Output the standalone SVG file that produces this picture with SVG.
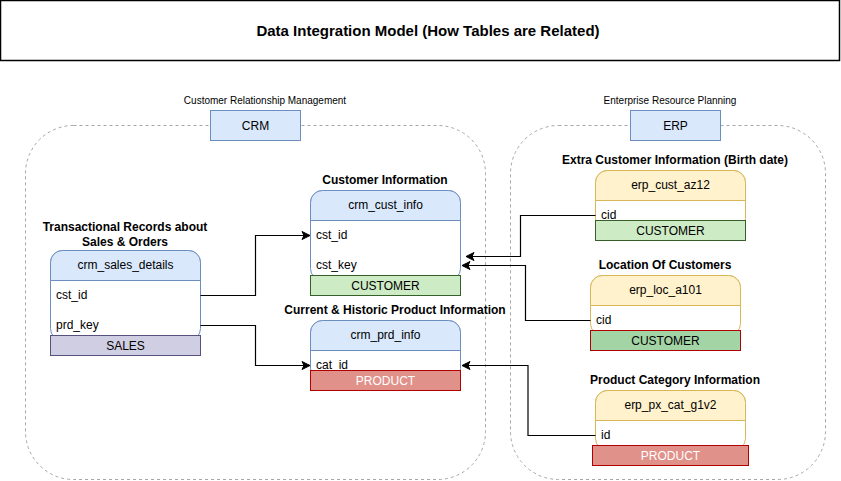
<svg xmlns="http://www.w3.org/2000/svg" width="841" height="481" viewBox="0 0 841 481">
<style>
text{font-family:"Liberation Sans",Arial,sans-serif;fill:#000}
.title{font-size:15px;font-weight:bold;text-anchor:middle}
.cap{font-size:12px;font-weight:bold;text-anchor:middle}
.small{font-size:10px;text-anchor:middle}
.name{font-size:12px;text-anchor:middle}
.row{font-size:12px}
.bar{font-size:12px;text-anchor:middle}
.cont{fill:none;stroke:#a6a6a6;stroke-dasharray:3 3}
.lbl{fill:#dae8fc;stroke:#6c8ebf}
.crmT{fill:#fff;stroke:#6c8ebf}
.crmH{fill:#dae8fc;stroke:#6c8ebf}
.erpT{fill:#fff;stroke:#d6b656}
.erpH{fill:#fff2cc;stroke:#d6b656}
.cust{fill:#cdebc4;stroke:#36602a}
.cust2{fill:#a3d4a5;stroke:#b20000}
.sales{fill:#d0cee2;stroke:#56517e}
.prod{fill:#e0918a;stroke:#b20000}
.edge{fill:none;stroke:#000;stroke-width:1.2}
</style>
<defs>
<marker id="arr" markerUnits="userSpaceOnUse" markerWidth="10" markerHeight="10" viewBox="0 0 10 10" refX="9" refY="5" orient="auto">
<path d="M1,1 L9,5 L1,9 L3,5 z" fill="#000" stroke="#000" stroke-width="1"/>
</marker>
</defs>

<g id="title">
<rect x="0.5" y="0.5" width="839" height="60" fill="#fff" stroke="#000" stroke-width="1.5"/>
<text class="title" x="428" y="36">Data Integration Model (How Tables are Related)</text>
</g>

<g id="crm-container">
<rect class="cont" x="25.5" y="125.5" width="460" height="354" rx="48"/>
<text class="small" x="265" y="104">Customer Relationship Management</text>
<rect class="lbl" x="210.5" y="110.5" width="90" height="30"/>
<text class="name" x="255.5" y="130">CRM</text>
</g>

<g id="erp-container">
<rect class="cont" x="510.5" y="125.5" width="315" height="354" rx="48"/>
<text class="small" x="670" y="104">Enterprise Resource Planning</text>
<rect class="lbl" x="630.5" y="110.5" width="90" height="30"/>
<text class="name" x="675.5" y="130">ERP</text>
</g>

<g id="crm_cust_info">
<text class="cap" x="385" y="184">Customer Information</text>
<rect class="crmT" x="310.5" y="190.5" width="150" height="90" rx="12"/>
<path class="crmH" d="M310.5,220.5 V202.5 A12,12 0 0 1 322.5,190.5 H448.5 A12,12 0 0 1 460.5,202.5 V220.5 Z"/>
<text class="name" x="385.5" y="209">crm_cust_info</text>
<text class="row" x="316" y="239">cst_id</text>
<text class="row" x="316" y="269">cst_key</text>
<rect class="cust" x="310.5" y="275.5" width="150" height="20"/>
<text class="bar" x="385.5" y="290">CUSTOMER</text>
</g>

<g id="crm_prd_info">
<text class="cap" x="395" y="314">Current &amp; Historic Product Information</text>
<rect class="crmT" x="310.5" y="320.5" width="150" height="60" rx="12"/>
<path class="crmH" d="M310.5,350.5 V332.5 A12,12 0 0 1 322.5,320.5 H448.5 A12,12 0 0 1 460.5,332.5 V350.5 Z"/>
<text class="name" x="385.5" y="339">crm_prd_info</text>
<text class="row" x="316" y="369">cat_id</text>
<rect class="prod" x="310.5" y="370.5" width="150" height="20"/>
<text class="bar" x="385.5" y="385" style="fill:#fff">PRODUCT</text>
</g>

<g id="crm_sales_details">
<text class="cap" x="125" y="231">Transactional Records about</text>
<text class="cap" x="125" y="246">Sales &amp; Orders</text>
<rect class="crmT" x="50.5" y="250.5" width="150" height="90" rx="12"/>
<path class="crmH" d="M50.5,280.5 V262.5 A12,12 0 0 1 62.5,250.5 H188.5 A12,12 0 0 1 200.5,262.5 V280.5 Z"/>
<text class="name" x="125.5" y="269">crm_sales_details</text>
<text class="row" x="56" y="299">cst_id</text>
<text class="row" x="56" y="329">prd_key</text>
<rect class="sales" x="50.5" y="335.5" width="150" height="20"/>
<text class="bar" x="125.5" y="350">SALES</text>
</g>

<g id="erp_cust_az12">
<text class="cap" x="675" y="164">Extra Customer Information (Birth date)</text>
<rect class="erpT" x="595.5" y="170.5" width="150" height="60" rx="12"/>
<path class="erpH" d="M595.5,200.5 V182.5 A12,12 0 0 1 607.5,170.5 H733.5 A12,12 0 0 1 745.5,182.5 V200.5 Z"/>
<text class="name" x="670.5" y="189">erp_cust_az12</text>
<text class="row" x="601" y="219">cid</text>
<rect class="cust" x="595.5" y="220.5" width="150" height="20"/>
<text class="bar" x="670.5" y="235">CUSTOMER</text>
</g>

<g id="erp_loc_a101">
<text class="cap" x="665" y="269">Location Of Customers</text>
<rect class="erpT" x="590.5" y="275.5" width="150" height="60" rx="12"/>
<path class="erpH" d="M590.5,305.5 V287.5 A12,12 0 0 1 602.5,275.5 H728.5 A12,12 0 0 1 740.5,287.5 V305.5 Z"/>
<text class="name" x="665.5" y="294">erp_loc_a101</text>
<text class="row" x="596" y="324">cid</text>
<rect class="cust2" x="590.5" y="330.5" width="150" height="20"/>
<text class="bar" x="665.5" y="345">CUSTOMER</text>
</g>

<g id="erp_px_cat_g1v2">
<text class="cap" x="675" y="384">Product Category Information</text>
<rect class="erpT" x="595.5" y="390.5" width="150" height="60" rx="12"/>
<path class="erpH" d="M595.5,420.5 V402.5 A12,12 0 0 1 607.5,390.5 H733.5 A12,12 0 0 1 745.5,402.5 V420.5 Z"/>
<text class="name" x="670.5" y="409">erp_px_cat_g1v2</text>
<text class="row" x="601" y="439">id</text>
<rect class="prod" x="592.5" y="445.5" width="156" height="20"/>
<text class="bar" x="670.5" y="460" style="fill:#fff">PRODUCT</text>
</g>

<g id="connectors">
<path class="edge" d="M200.5,295.5 H255.5 V235.5 H310" marker-end="url(#arr)"/>
<path class="edge" d="M200.5,325.5 H255.5 V365.5 H310" marker-end="url(#arr)"/>
<path class="edge" d="M595.5,215.5 H520.5 V256.5 H466" marker-end="url(#arr)"/>
<path class="edge" d="M590.5,320.5 H525.5 V265.5 H462" marker-end="url(#arr)"/>
<path class="edge" d="M595.5,435.5 H528 V365.5 H462" marker-end="url(#arr)"/>
</g>
</svg>
